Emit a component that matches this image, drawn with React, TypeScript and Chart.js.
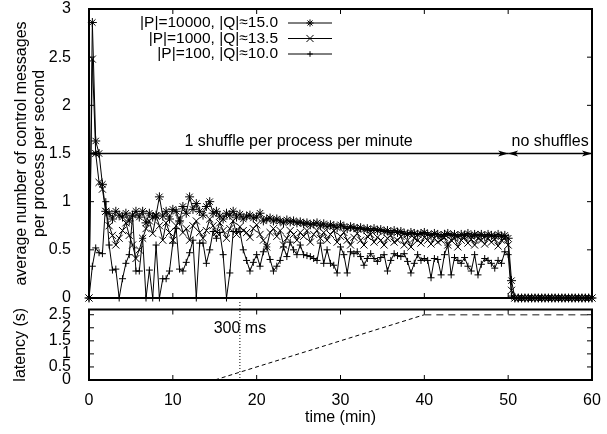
import React, { useEffect, useRef } from 'react';
import { Chart, registerables } from 'chart.js';

Chart.register(...registerables);

// ---------------- data ----------------
// samples every 0.4 min (24 s), from 0 to 60 min
const SAMPLE_STEP_MIN = 0.4;

const seriesLabels = ['|P|=10000, |Q|≈15.0', '|P|=1000, |Q|≈13.5', '|P|=100, |Q|≈10.0'];

const msgsP10000 = [
  0, 2.86, 1.63, 1.5, 1.18, 0.9, 0.88, 0.82, 0.9, 0.86,
  0.84, 0.88, 0.8, 0.86, 0.9, 0.84, 0.9, 0.78, 0.88, 0.84,
  0.86, 1.05, 0.85, 0.9, 0.82, 0.92, 0.9, 0.8, 0.95, 0.88,
  1.05, 0.92, 0.98, 0.9, 0.86, 0.95, 1.0, 0.88, 0.9, 0.85,
  0.82, 0.88, 0.86, 0.9, 0.84, 0.87, 0.82, 0.85, 0.86, 0.83,
  0.84, 0.88, 0.8, 0.82, 0.83, 0.8, 0.82, 0.8, 0.78, 0.81,
  0.79, 0.8, 0.78, 0.79, 0.77, 0.78, 0.76, 0.77, 0.78, 0.75,
  0.77, 0.74, 0.76, 0.75, 0.73, 0.76, 0.74, 0.72, 0.74, 0.73,
  0.72, 0.73, 0.71, 0.72, 0.7, 0.72, 0.7, 0.71, 0.69, 0.7,
  0.68, 0.7, 0.68, 0.69, 0.67, 0.66, 0.68, 0.67, 0.66, 0.67,
  0.68, 0.66, 0.65, 0.67, 0.66, 0.64, 0.66, 0.67, 0.65, 0.66,
  0.64, 0.66, 0.65, 0.67, 0.64, 0.66, 0.65, 0.66, 0.64, 0.66,
  0.65, 0.64, 0.66, 0.64, 0.65, 0.62, 0.18,
  0, 0, 0, 0, 0, 0, 0, 0, 0, 0, 0, 0,
  0, 0, 0, 0, 0, 0, 0, 0, 0, 0, 0, 0,
];

const msgsP1000 = [
  0, 2.48, 1.5, 1.2, 1.13, 0.9, 0.75, 0.65, 0.55, 0.62,
  0.7, 0.78, 0.65, 0.55, 0.41, 0.5, 0.62, 0.72, 0.8, 0.67,
  0.85, 0.75, 0.6, 0.78, 0.68, 0.6, 0.75, 0.82, 0.68, 0.72,
  0.6, 0.75, 0.8, 0.68, 0.62, 0.7, 0.82, 0.75, 0.68, 0.78,
  0.7, 0.62, 0.72, 0.8, 0.66, 0.74, 0.7, 0.68, 0.63, 0.72,
  0.76, 0.66, 0.6, 0.53, 0.68, 0.72, 0.64, 0.7, 0.55, 0.62,
  0.7, 0.66, 0.6, 0.68, 0.64, 0.7, 0.58, 0.66, 0.7, 0.62,
  0.68, 0.6, 0.66, 0.7, 0.58, 0.64, 0.68, 0.6, 0.55, 0.63,
  0.67, 0.6, 0.55, 0.64, 0.66, 0.58, 0.63, 0.6, 0.55, 0.62,
  0.65, 0.58, 0.6, 0.64, 0.55, 0.6, 0.53, 0.62, 0.6, 0.57,
  0.63, 0.6, 0.56, 0.62, 0.58, 0.6, 0.63, 0.55, 0.6, 0.62,
  0.53, 0.6, 0.63, 0.57, 0.61, 0.55, 0.62, 0.6, 0.56, 0.62,
  0.58, 0.61, 0.54, 0.6, 0.62, 0.55, 0.08,
  0, 0, 0, 0, 0, 0, 0, 0, 0, 0, 0, 0,
  0, 0, 0, 0, 0, 0, 0, 0, 0, 0, 0, 0,
];

const msgsP100 = [
  0, 0.33, 0.52, 0.47, 0.46, 1.0, 0.55, 0.29, 0.3, 0,
  0.2, 0.36, 0.45, 0.85, 0.28, 0.28, 0.62, 0, 0.29, 0,
  0.55, 0, 0.2, 0.2, 0.28, 0.57, 0.72, 0.3, 0.28, 0.37,
  0.47, 0.6, 0, 0.57, 0.57, 0.36, 0.5, 0.69, 0.62, 0.68,
  0.45, 0, 0.26, 0.69, 0.69, 0.69, 0.5, 0.39, 0.28, 0.37,
  0.45, 0.33, 0.48, 0.53, 0.4, 0.28, 0.33, 0.39, 0.53, 0.43,
  0.58, 0.5, 0.45, 0.55, 0.45, 0.44, 0.43, 0.41, 0.39, 0.57,
  0.36, 0.5, 0.36, 0.34, 0.26, 0.53, 0.45, 0.26, 0.48, 0.46,
  0.48, 0.43, 0.34, 0.41, 0.46, 0.41, 0.38, 0.42, 0.45, 0.28,
  0.39, 0.46, 0.44, 0.43, 0.46, 0.38, 0.26, 0.36, 0.45, 0.39,
  0.41, 0.39, 0.21, 0.41, 0.4, 0.24, 0.45, 0.55, 0.24, 0.42,
  0.39, 0.36, 0.42, 0.33, 0.28, 0.45, 0.24, 0.35, 0.41, 0.39,
  0.36, 0.31, 0.39, 0.36, 0.48, 0.45, 0.02,
  0, 0, 0, 0, 0, 0, 0, 0, 0, 0, 0, 0,
  0, 0, 0, 0, 0, 0, 0, 0, 0, 0, 0, 0,
];

const latencyTimes = [0, 15, 40, 60];
const latencySeconds = [0, 0, 2.5, 2.5];

const timeTicks = [0, 10, 20, 30, 40, 50, 60];
const msgTicks = [0, 0.5, 1, 1.5, 2, 2.5, 3];
const latencyTicks = [0, 0.5, 1, 1.5, 2, 2.5];

const phaseLabels = ['1 shuffle per process per minute', 'no shuffles'];
const phaseBounds = [0, 50, 60];
const phaseArrowLevel = 1.5;
const markerTime = 18;
const markerLabel = '300 ms';

const yTitleTop = ['average number of control messages', 'per process per second'];
const yTitleBottom = 'latency (s)';
const xTitle = 'time (min)';

// ---------------- styling ----------------
const FONT = '"Liberation Sans", Arial, Helvetica, sans-serif';
const FS = 16;
const pointStyles = ['star', 'crossRot', 'cross'];
const pointRadii = [4.5, 5, 3.5];

const toPoints = (vals: number[]) =>
  vals.map((v, i) => ({ x: Math.round(i * SAMPLE_STEP_MIN * 10) / 10, y: v }));

function drawMarker(ctx: CanvasRenderingContext2D, style: string, cx: number, cy: number, r: number) {
  ctx.beginPath();
  if (style === 'cross' || style === 'star') {
    ctx.moveTo(cx - r, cy); ctx.lineTo(cx + r, cy);
    ctx.moveTo(cx, cy - r); ctx.lineTo(cx, cy + r);
  }
  if (style === 'crossRot' || style === 'star') {
    const d = r * Math.SQRT1_2;
    ctx.moveTo(cx - d, cy - d); ctx.lineTo(cx + d, cy + d);
    ctx.moveTo(cx - d, cy + d); ctx.lineTo(cx + d, cy - d);
  }
  ctx.stroke();
}

function arrowHead(ctx: CanvasRenderingContext2D, tipX: number, y: number, dir: number) {
  const len = 10, half = 3;
  ctx.beginPath();
  ctx.moveTo(tipX, y);
  ctx.lineTo(tipX - dir * len, y - half);
  ctx.lineTo(tipX - dir * len * 0.75, y);
  ctx.lineTo(tipX - dir * len, y + half);
  ctx.closePath();
  ctx.fill();
}

const framePlugin = {
  id: 'frame',
  afterDatasetsDraw(chart: any, _args: any, opts: any) {
    const { ctx, chartArea: a, scales } = chart;
    const tl = 5;
    ctx.save();
    ctx.strokeStyle = '#000';
    ctx.lineWidth = 1;
    ctx.beginPath();
    for (const v of opts.xTicks) {
      const px = scales.x.getPixelForValue(v);
      ctx.moveTo(px, a.bottom); ctx.lineTo(px, a.bottom - tl);
      ctx.moveTo(px, a.top); ctx.lineTo(px, a.top + tl);
    }
    for (const v of opts.yTicks) {
      const py = scales.y.getPixelForValue(v);
      ctx.moveTo(a.left, py); ctx.lineTo(a.left + tl, py);
      ctx.moveTo(a.right, py); ctx.lineTo(a.right - tl, py);
    }
    ctx.stroke();
    ctx.lineWidth = 2;
    ctx.strokeRect(a.left, a.top, a.right - a.left, a.bottom - a.top);
    ctx.restore();
  },
};

const topDecor = {
  id: 'topDecor',
  afterDraw(chart: any) {
    const { ctx, chartArea: a, scales: { x, y } } = chart;
    ctx.save();
    ctx.fillStyle = '#000';
    ctx.strokeStyle = '#000';
    // phase arrows
    const ya = y.getPixelForValue(phaseArrowLevel);
    ctx.lineWidth = 1.5;
    for (let i = 0; i < phaseBounds.length - 1; i++) {
      const x1 = x.getPixelForValue(phaseBounds[i]);
      const x2 = x.getPixelForValue(phaseBounds[i + 1]);
      ctx.beginPath(); ctx.moveTo(x1, ya); ctx.lineTo(x2, ya); ctx.stroke();
      arrowHead(ctx, x2, ya, 1);
      arrowHead(ctx, x1, ya, -1);
      ctx.font = `${FS}px ${FONT}`;
      ctx.textAlign = 'center';
      ctx.textBaseline = 'middle';
      ctx.fillText(phaseLabels[i], x.getPixelForValue((phaseBounds[i] + phaseBounds[i + 1]) / 2), ya - 12);
    }
    // legend (gnuplot style)
    ctx.font = `15.5px ${FONT}`;
    ctx.textAlign = 'right';
    ctx.textBaseline = 'middle';
    chart.data.datasets.forEach((ds: any, i: number) => {
      const ry = 23 + i * 15.5;
      ctx.fillText(ds.label, 278, ry);
      ctx.lineWidth = 1;
      ctx.beginPath(); ctx.moveTo(288, ry); ctx.lineTo(332, ry); ctx.stroke();
      drawMarker(ctx, pointStyles[i], 310, ry, pointRadii[i] * (pointStyles[i] === 'crossRot' ? 1 : 0.8));
    });
    // y title
    ctx.font = `${FS}px ${FONT}`;
    ctx.textAlign = 'center';
    ctx.save();
    ctx.translate(22, (a.top + a.bottom) / 2);
    ctx.rotate(-Math.PI / 2);
    ctx.fillText(yTitleTop[0], 0, 0);
    ctx.fillText(yTitleTop[1], 0, 18);
    ctx.restore();
    ctx.restore();
  },
};

const bottomDecor = {
  id: 'bottomDecor',
  afterDraw(chart: any) {
    const { ctx, chartArea: a, scales: { x, y } } = chart;
    ctx.save();
    ctx.fillStyle = '#000';
    ctx.strokeStyle = '#000';
    // dotted marker line
    const mx = x.getPixelForValue(markerTime);
    ctx.lineWidth = 1;
    ctx.setLineDash([1, 2]);
    ctx.beginPath(); ctx.moveTo(mx, 1); ctx.lineTo(mx, a.bottom); ctx.stroke();
    ctx.setLineDash([]);
    ctx.font = `${FS}px ${FONT}`;
    ctx.textAlign = 'center';
    ctx.textBaseline = 'middle';
    ctx.fillText(markerLabel, mx, y.getPixelForValue(1.95));
    // x title
    ctx.fillText(xTitle, (a.left + a.right) / 2, 117);
    // y title
    ctx.save();
    ctx.translate(21, (a.top + a.bottom) / 2);
    ctx.rotate(-Math.PI / 2);
    ctx.fillText(yTitleBottom, 0, 0);
    ctx.restore();
    ctx.restore();
  },
};

const tickFont = { family: FONT, size: FS };

export default function App() {
  const topRef = useRef<HTMLCanvasElement>(null);
  const botRef = useRef<HTMLCanvasElement>(null);

  useEffect(() => {
    const series = [msgsP10000, msgsP1000, msgsP100];
    const top = new Chart(topRef.current as HTMLCanvasElement, {
      type: 'line',
      data: {
        datasets: series.map((vals, i) => ({
          label: seriesLabels[i],
          data: toPoints(vals),
          borderColor: '#000',
          backgroundColor: '#000',
          borderWidth: 1,
          pointStyle: pointStyles[i],
          pointRadius: pointRadii[i],
          pointBorderColor: '#000',
          pointBorderWidth: 1,
          tension: 0,
          clip: false,
          order: 3 - i,
        })),
      },
      options: {
        responsive: false,
        animation: false,
        events: [],
        layout: { padding: { top: 9, right: 15, bottom: 3.5, left: 0 } },
        plugins: {
          legend: { display: false },
          tooltip: { enabled: false },
          frame: { xTicks: timeTicks, yTicks: msgTicks },
        } as any,
        scales: {
          x: { type: 'linear', min: 0, max: 60, display: false },
          y: {
            type: 'linear', min: 0, max: 3,
            grid: { display: false }, border: { display: false },
            ticks: { autoSkip: false, padding: 10, color: '#000', font: tickFont, callback: (v: any) => String(v) },
            afterBuildTicks: (s: any) => { s.ticks = msgTicks.map((v) => ({ value: v })); },
            afterFit: (s: any) => { s.width = 89; s.paddingTop = 0; s.paddingBottom = 0; },
          },
        },
      } as any,
      plugins: [framePlugin, topDecor],
    });

    const bottom = new Chart(botRef.current as HTMLCanvasElement, {
      type: 'line',
      data: {
        datasets: [{
          label: 'latency',
          data: latencyTimes.map((t, i) => ({ x: t, y: latencySeconds[i] })),
          borderColor: '#000',
          borderWidth: 1,
          pointRadius: 0,
          clip: false,
          segment: {
            borderDash: (c: any) => (c.p0.parsed.x >= 40 ? [7, 5] : [4, 3]),
            borderColor: (c: any) => (c.p0.parsed.x >= 40 ? '#666' : '#000'),
            borderWidth: (c: any) => (c.p0.parsed.x >= 40 ? 1.5 : 1),
          },
        } as any],
      },
      options: {
        responsive: false,
        animation: false,
        events: [],
        layout: { padding: { top: 8.5, right: 15, bottom: 0, left: 0 } },
        plugins: {
          legend: { display: false },
          tooltip: { enabled: false },
          frame: { xTicks: timeTicks, yTicks: latencyTicks },
        } as any,
        scales: {
          x: {
            type: 'linear', min: 0, max: 60,
            grid: { display: false }, border: { display: false },
            ticks: { autoSkip: false, padding: 3, maxRotation: 0, color: '#000', font: tickFont },
            afterBuildTicks: (s: any) => { s.ticks = timeTicks.map((v) => ({ value: v })); },
            afterFit: (s: any) => { s.height = 54; s.paddingLeft = 0; s.paddingRight = 0; },
          },
          y: {
            type: 'linear', min: 0, max: 2.7,
            grid: { display: false }, border: { display: false },
            ticks: { autoSkip: false, padding: 10, color: '#000', font: tickFont, callback: (v: any) => String(v) },
            afterBuildTicks: (s: any) => { s.ticks = latencyTicks.map((v) => ({ value: v })); },
            afterFit: (s: any) => { s.width = 89; s.paddingTop = 0; s.paddingBottom = 0; },
          },
        },
      } as any,
      plugins: [framePlugin, bottomDecor],
    });

    return () => { top.destroy(); bottom.destroy(); };
  }, []);

  return (
    <div style={{ position: 'absolute', left: 0, top: 0, width: 607, height: 434, background: '#fff' }}>
      <canvas ref={topRef} width={607} height={304} style={{ position: 'absolute', left: 0, top: 0 }} />
      <canvas ref={botRef} width={607} height={133} style={{ position: 'absolute', left: 0, top: 301 }} />
    </div>
  );
}
